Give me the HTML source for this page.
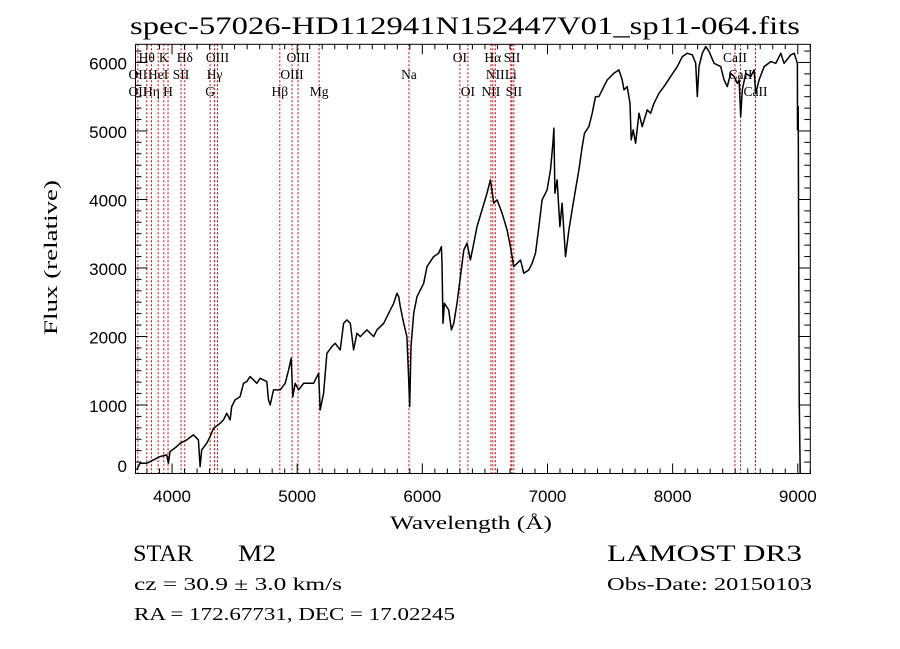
<!DOCTYPE html>
<html><head><meta charset="utf-8"><style>
html,body{margin:0;padding:0;background:#fff;}
svg{display:block;}
</style></head><body>
<svg id="chart" width="900" height="649" viewBox="0 0 900 649" xmlns="http://www.w3.org/2000/svg">
<rect width="900" height="649" fill="#fff"/>
<text x="465" y="34" font-family="Liberation Serif, serif" font-size="25" text-anchor="middle" textLength="670" lengthAdjust="spacingAndGlyphs">spec-57026-HD112941N152447V01_sp11-064.fits</text>
<g id="lines"></g>
<g id="axes"></g>
<g id="series"></g>
<text x="390" y="529" font-family="Liberation Serif, serif" font-size="19" textLength="162" lengthAdjust="spacingAndGlyphs">Wavelength (Å)</text>
<text transform="translate(57,335) rotate(-90)" font-family="Liberation Serif, serif" font-size="19" textLength="155" lengthAdjust="spacingAndGlyphs">Flux (relative)</text>
<text x="133" y="561" font-family="Liberation Serif, serif" font-size="23" textLength="60" lengthAdjust="spacingAndGlyphs">STAR</text>
<text x="238" y="561" font-family="Liberation Serif, serif" font-size="23" textLength="38" lengthAdjust="spacingAndGlyphs">M2</text>
<text x="134" y="590" font-family="Liberation Serif, serif" font-size="18" textLength="208" lengthAdjust="spacingAndGlyphs">cz = 30.9 ± 3.0 km/s</text>
<text x="134" y="620" font-family="Liberation Serif, serif" font-size="18" textLength="321" lengthAdjust="spacingAndGlyphs">RA = 172.67731, DEC =  17.02245</text>
<text x="607" y="561" font-family="Liberation Serif, serif" font-size="23" textLength="195" lengthAdjust="spacingAndGlyphs">LAMOST DR3</text>
<text x="607" y="590" font-family="Liberation Serif, serif" font-size="18" textLength="205" lengthAdjust="spacingAndGlyphs">Obs-Date: 20150103</text>
</svg>
<script>
const wave = [3717,3744,3797,3851,3904,3957,3971,3984,4037,4064,4117,4171,4211,4224,4237,4277,4304,4331,4384,4411,4437,4464,4477,4504,4544,4571,4597,4624,4651,4677,4704,4757,4771,4784,4811,4864,4904,4931,4952,4965,4984,5011,5051,5131,5171,5184,5211,5237,5277,5304,5344,5371,5397,5424,5451,5477,5504,5557,5611,5637,5691,5744,5771,5797,5811,5824,5851,5877,5891,5899,5909,5931,5957,6011,6037,6091,6131,6152,6157,6165,6176,6211,6232,6251,6277,6304,6331,6357,6384,6411,6437,6477,6517,6544,6571,6597,6637,6677,6704,6731,6784,6811,6851,6877,6904,6931,6957,6997,7024,7043,7051,7059,7077,7099,7117,7144,7171,7197,7224,7251,7277,7296,7331,7357,7384,7411,7451,7477,7531,7571,7597,7611,7637,7659,7669,7685,7704,7731,7757,7797,7824,7851,7891,7931,7984,8037,8077,8117,8157,8184,8197,8211,8237,8264,8291,8331,8384,8411,8437,8464,8491,8517,8531,8544,8557,8584,8624,8651,8664,8691,8731,8784,8824,8864,8891,8944,8971,8997,8998,9003,9011,9019];
const flux = [52,149,149,198,246,271,149,319,392,441,490,563,490,100,344,441,539,660,733,782,879,782,976,1074,1122,1317,1341,1414,1366,1317,1390,1341,1074,1001,1220,1220,1317,1512,1682,1122,1317,1220,1317,1317,1463,928,1171,1755,1852,1901,1804,2193,2242,2193,1804,2047,1998,2096,1998,2096,2193,2388,2485,2631,2582,2436,2193,1998,1366,976,1852,2339,2582,2777,3020,3166,3215,3312,3069,2193,2485,2388,2096,2193,2485,2874,3263,3361,3117,3361,3604,3847,4091,4285,3945,3993,3799,3555,3312,3020,3117,2923,2971,3069,3215,3604,3993,4139,4431,4820,5040,4091,4285,3604,3945,3166,3555,3847,4139,4431,4772,4967,5064,5258,5502,5502,5648,5745,5842,5891,5745,5599,5648,5404,4869,5015,4821,5258,5064,5307,5258,5404,5550,5648,5794,5940,6086,6134,6110,5988,5502,5940,6134,6232,6159,5988,5940,5745,5648,5842,5794,5696,5745,5210,5599,5842,5794,5891,5550,5745,5940,6013,5988,6134,5988,6110,6134,5988,5015,5356,1122,3];
const xTicks = [4000,5000,6000,7000,8000,9000];
const yTicks = [0,1000,2000,3000,4000,5000,6000];
const lineWaves = [3727,3798,3835,3889,3934,3968,4072,4102,4304,4340,4363,4861,4959,5007,5175,5893,6300,6364,6548,6563,6583,6707,6716,6731,8498,8542,8662];
const labelNames = ["Hθ","K","Hδ","OIII","OIII","OI","Hα","SII","CaII","OII","HeI","SII","Hγ","OIII","Na","NII","Li","CaII","OII","Hη","H","G","Hβ","Mg","OI","NII","SII","CaII"];
const labelWaves = [3798,3934,4102,4363,5007,6300,6563,6716,8498,3727,3889,4072,4340,4959,5893,6583,6707,8542,3727,3835,3968,4304,4861,5175,6364,6548,6731,8662];
const labelRows = [0,0,0,0,0,0,0,0,0,1,1,1,1,1,1,1,1,1,2,2,2,2,2,2,2,2,2,2];

const L=135.5,R=810.3,T=44.3,B=473.5;
const X0=3708,X1=9100,Y0=0,Y1=6265;
const NS="http://www.w3.org/2000/svg";
function xs(w){return L+(w-X0)/(X1-X0)*(R-L);}
function ys(f){return B-(f-Y0)/(Y1-Y0)*(B-T);}
function mk(tag,attrs,parent){const e=document.createElementNS(NS,tag);for(const k in attrs)e.setAttribute(k,attrs[k]);parent.appendChild(e);return e;}

const gl=document.getElementById('lines');
lineWaves.forEach(w=>{
  const l=mk('line',{x1:xs(w),x2:xs(w),y1:T,y2:B,stroke:'#c00000','stroke-width':1,'stroke-dasharray':'2,2'},gl);
  
  
});
const rowY=[62,79,96];
labelNames.forEach((n,i)=>{
  const t=mk('text',{x:xs(labelWaves[i]),y:rowY[labelRows[i]],'font-family':'Liberation Serif, serif','font-size':13.5,'text-anchor':'middle'},gl);
  t.textContent=n;
  
  
});

const ga=document.getElementById('axes');
const frame=mk('rect',{x:L,y:T,width:R-L,height:B-T,fill:'none',stroke:'#000','stroke-width':1},ga);


for(let w=3800;w<=X1;w+=100){
  const major=(w%1000===0), len=major?10:5;
  mk('line',{x1:xs(w),x2:xs(w),y1:B,y2:B-len,stroke:'#000'},ga);
  mk('line',{x1:xs(w),x2:xs(w),y1:T,y2:T+len,stroke:'#000'},ga);
}
for(let f=0;f<=Y1;f+=1000/6){
  const major=Math.abs(f/1000-Math.round(f/1000))<1e-6, len=major?12:6;
  mk('line',{x1:L,x2:L+len,y1:ys(f),y2:ys(f),stroke:'#000'},ga);
  mk('line',{x1:R,x2:R-len,y1:ys(f),y2:ys(f),stroke:'#000'},ga);
}
xTicks.forEach(v=>{
  const t=mk('text',{x:xs(v),y:502,'font-family':'Liberation Sans, sans-serif','font-size':17,'text-anchor':'middle'},ga);
  t.textContent=v;
  
  
});
yTicks.forEach(v=>{
  const t=mk('text',{x:127,y:v===0?472:ys(v)+7,'font-family':'Liberation Sans, sans-serif','font-size':17,'text-anchor':'end'},ga);
  t.textContent=v;
  
  
});

const gs=document.getElementById('series');
const d=wave.map((w,i)=>(i?'L':'M')+xs(w).toFixed(1)+','+ys(flux[i]).toFixed(1)).join('');
const p=mk('path',{d:d,fill:'none',stroke:'#000','stroke-width':1.5,'stroke-linejoin':'round'},gs);


</script>
</body></html>
